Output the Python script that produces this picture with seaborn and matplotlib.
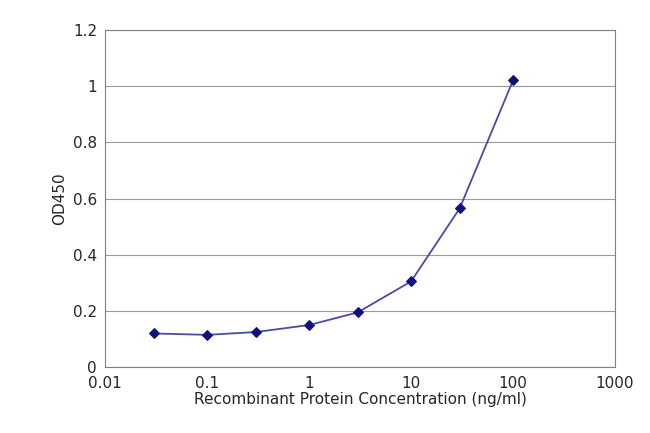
import matplotlib
matplotlib.use("Agg")
import matplotlib.pyplot as plt
import seaborn as sns
import pandas as pd

# ELISA standard curve values
conc = [0.03, 0.1, 0.3, 1, 3, 10, 30, 100]
od450 = [0.12, 0.115, 0.125, 0.15, 0.195, 0.305, 0.565, 1.02]
yticks = [0, 0.2, 0.4, 0.6, 0.8, 1, 1.2]
ytick_labels = ["0", "0.2", "0.4", "0.6", "0.8", "1", "1.2"]
xticks = [0.01, 0.1, 1, 10, 100, 1000]
xtick_labels = ["0.01", "0.1", "1", "10", "100", "1000"]

df = pd.DataFrame({"conc": conc, "od": od450})

sns.set_style("white")
plt.rcParams['font.family'] = ['DejaVu Sans']

fig = plt.figure(figsize=(6.5, 4.33), dpi=100)
ax = fig.add_axes([0.162, 0.152, 0.784, 0.779])

sns.lineplot(data=df, x="conc", y="od", ax=ax, color="#4a4aa8", linewidth=1.3,
             marker="D", markersize=5, markerfacecolor="#10107a",
             markeredgecolor="#10107a")

ax.set_xscale("log")
ax.set_xlim(0.01, 1000)
ax.set_ylim(0, 1.2)
ax.set_xticks(xticks)
ax.set_xticklabels(xtick_labels)
ax.minorticks_off()
ax.set_yticks(yticks)
ax.set_yticklabels(ytick_labels)
ax.tick_params(labelsize=11, length=0, pad=6)
ax.yaxis.grid(True, color="#9a9a9a", linewidth=0.8)
for s in ax.spines.values():
    s.set_color("#808080")
    s.set_linewidth(0.8)
ax.set_xlabel("Recombinant Protein Concentration (ng/ml)", fontsize=11, labelpad=1)
ax.set_ylabel("OD450", fontsize=11)

fig.savefig("out.png", dpi=100)
